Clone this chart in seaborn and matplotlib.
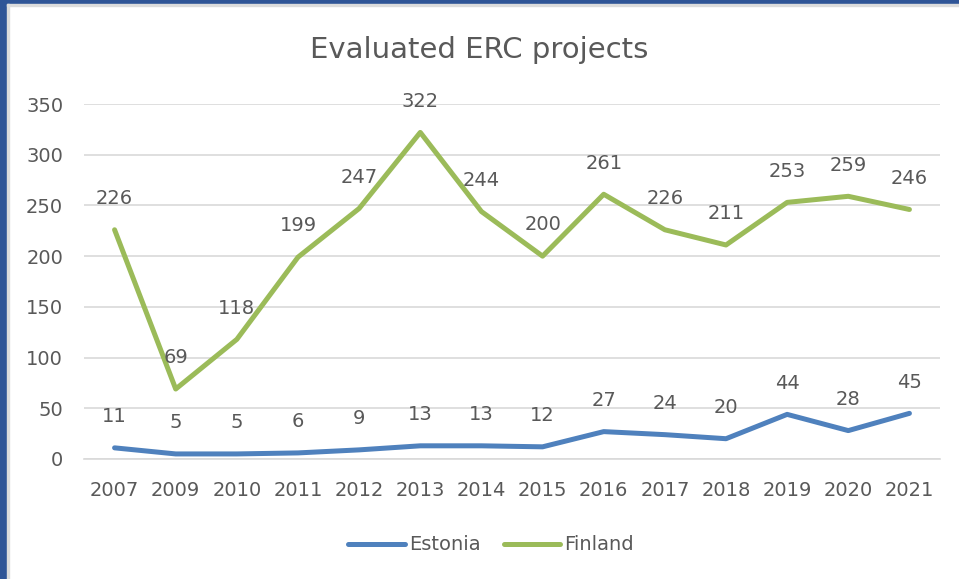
import numpy as np
import pandas as pd
import matplotlib
matplotlib.use("Agg")
import matplotlib.pyplot as plt
from matplotlib.patches import Rectangle
import seaborn as sns

# data
years = ["2007", "2009", "2010", "2011", "2012", "2013", "2014",
         "2015", "2016", "2017", "2018", "2019", "2020", "2021"]
estonia = [11, 5, 5, 6, 9, 13, 13, 12, 27, 24, 20, 44, 28, 45]
finland = [226, 69, 118, 199, 247, 322, 244, 200, 261, 226, 211, 253, 259, 246]

df = pd.DataFrame({
    "year": years * 2,
    "value": estonia + finland,
    "country": ["Estonia"] * len(years) + ["Finland"] * len(years),
})

sns.set_style("white")
plt.rcParams['font.family'] = ['DejaVu Sans']
txt = "#595959"

fig = plt.figure(figsize=(9.59, 5.79), dpi=100)
ax = fig.add_axes([84 / 959, 1 - 459 / 579, (940 - 84) / 959, (459 - 104) / 579])

sns.lineplot(data=df, x="year", y="value", hue="country",
             palette={"Estonia": "#4F81BD", "Finland": "#9BBB59"},
             linewidth=3.6, ax=ax, sort=False)

ax.set_xlim(-0.5, len(years) - 0.5)
ax.set_ylim(0, 350)
ax.set_yticks(range(0, 351, 50))
ax.grid(axis="y", color="#d9d9d9", linewidth=1.2)
ax.set_axisbelow(True)
for s in ["top", "right", "left"]:
    ax.spines[s].set_visible(False)
ax.spines["bottom"].set_color("#d9d9d9")
ax.spines["bottom"].set_linewidth(1.2)
ax.tick_params(axis="both", length=0, colors=txt, labelsize=14)
ax.tick_params(axis="x", pad=16)
ax.tick_params(axis="y", pad=15)
ax.set_xlabel("")
ax.set_ylabel("")

# data labels
for i, v in enumerate(estonia):
    ax.annotate(str(v), (i, v), xytext=(0, 22.5), textcoords="offset points",
                ha="center", va="center", fontsize=14, color=txt)
for i, v in enumerate(finland):
    ax.annotate(str(v), (i, v), xytext=(0, 22.5), textcoords="offset points",
                ha="center", va="center", fontsize=14, color=txt)

fig.suptitle("Evaluated ERC projects", y=1 - 50 / 579, va="center",
             fontsize=21, color=txt)

leg = ax.legend(loc="center", ncol=2, frameon=False,
                fontsize=14, handlelength=2.9, columnspacing=1.2, handletextpad=0.2)
leg.set_bbox_to_anchor((491 / 959, 1 - 545 / 579), transform=fig.transFigure)
for t in leg.get_texts():
    t.set_color(txt)

# frame around the chart like the screenshot
fig.patches.append(Rectangle((0, 0), 7 / 959, 1, transform=fig.transFigure,
                             color="#2F5597", zorder=10))
fig.patches.append(Rectangle((0, 1 - 4 / 579), 1, 4 / 579, transform=fig.transFigure,
                             color="#2F5597", zorder=10))
fig.patches.append(Rectangle((7 / 959, 0), 2 / 959, 1 - 4 / 579, transform=fig.transFigure,
                             color="#dcdcdc", zorder=10))
fig.patches.append(Rectangle((7 / 959, 1 - 6 / 579), 1, 2 / 579, transform=fig.transFigure,
                             color="#dcdcdc", zorder=10))

fig.savefig("out.png", dpi=100)
